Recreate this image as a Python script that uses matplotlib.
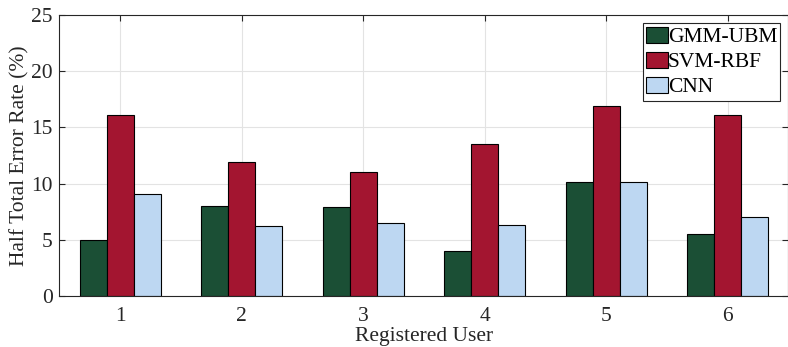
import matplotlib
matplotlib.use("Agg")
import matplotlib.pyplot as plt
import numpy as np

users = ["1", "2", "3", "4", "5", "6"]
gmm_ubm = [5.0, 8.0, 7.9, 4.0, 10.1, 5.5]
svm_rbf = [16.1, 11.9, 11.0, 13.5, 16.9, 16.1]
cnn = [9.1, 6.2, 6.5, 6.3, 10.1, 7.0]

plt.rcParams["font.family"] = ["Liberation Serif", "DejaVu Serif"]
plt.rcParams["font.size"] = 15.5

fig = plt.figure(figsize=(7.88, 3.47), dpi=100)
ax = fig.add_axes([0.0755, 0.147, 0.925, 0.81])

x = np.arange(1, len(users) + 1)
w = 0.222
series = [(gmm_ubm, "#1b4f35", "GMM-UBM"),
          (svm_rbf, "#a31530", "SVM-RBF"),
          (cnn, "#bdd7f2", "CNN")]
for i, (vals, col, lab) in enumerate(series):
    ax.bar(x + (i - 1) * w, vals, width=w, color=col, edgecolor="black",
           linewidth=0.8, label=lab, zorder=2)

ax.set_xlim(0.5, 6.5)
ax.set_ylim(0, 25)
ax.set_xticks(x)
ax.set_xticklabels(users)
ax.set_yticks(np.arange(0, 26, 5))
ax.grid(True, color="#e3e3e3", linewidth=0.8, zorder=0)
ax.set_axisbelow(True)
ax.tick_params(direction="in", top=True, right=True, length=4, width=0.8,
               colors="#262626", labelcolor="#262626", pad=5)
ax.tick_params(axis="x", pad=8)
for s in ax.spines.values():
    s.set_color("#262626")
    s.set_linewidth(0.8)
ax.set_xlabel("Registered User", color="#262626", labelpad=1)
ax.set_ylabel("Half Total Error Rate (%)", color="#262626", labelpad=1)

leg = ax.legend(loc="upper right", bbox_to_anchor=(0.995, 0.985),
                handlelength=1.0, handleheight=0.8, handletextpad=0.0,
                borderpad=0.15, labelspacing=0.2, borderaxespad=0.2,
                fancybox=False, framealpha=1, edgecolor="#262626", fontsize=15.5)
leg.get_frame().set_linewidth(0.8)

fig.savefig("out.png", dpi=100)
